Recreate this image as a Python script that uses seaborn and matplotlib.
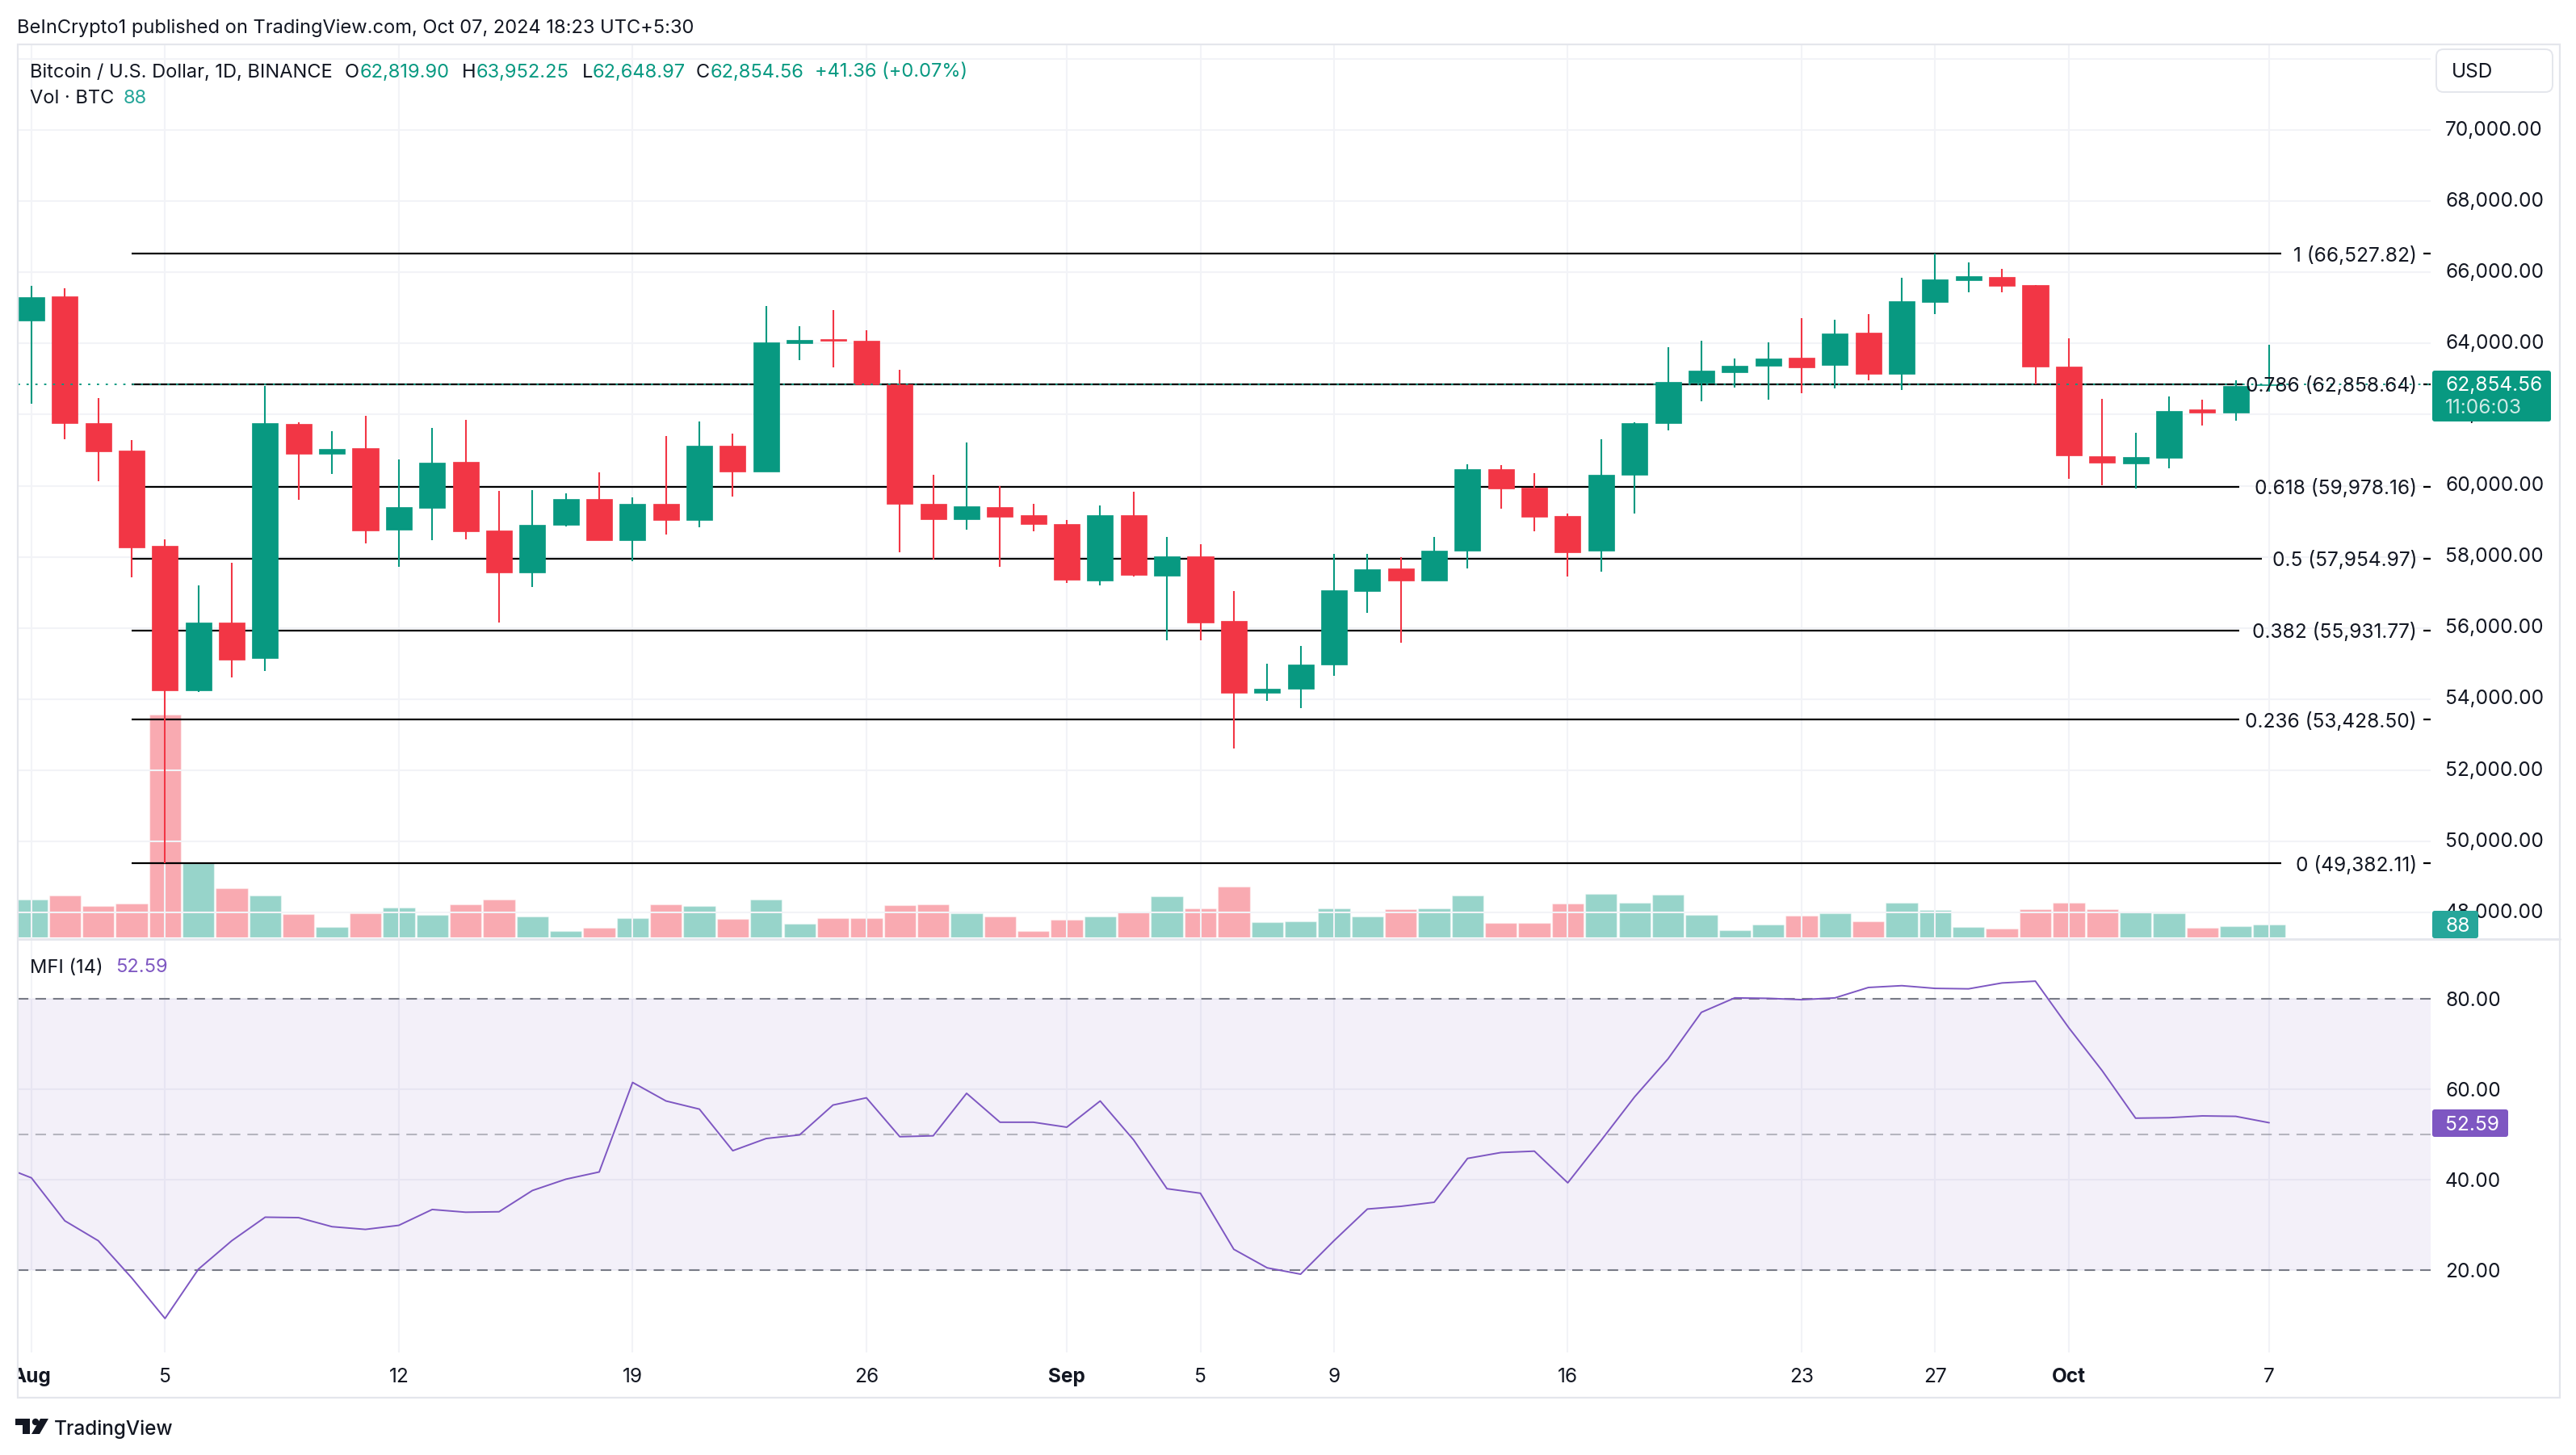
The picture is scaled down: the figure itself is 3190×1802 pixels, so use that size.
import matplotlib
matplotlib.use("Agg")
import matplotlib.pyplot as plt
import seaborn as sns
import numpy as np
from matplotlib.patches import Rectangle, FancyBboxPatch, Polygon, Circle
from matplotlib.lines import Line2D
from matplotlib.transforms import Affine2D, Bbox

sns.set_theme(style="white")
plt.rcParams['font.family'] = ['Inter', 'DejaVu Sans']

# ------------------------------ data ------------------------------
OPEN = [64645,65322,61765,60996,58312,54247,56149,55159,61739,60905,61062,58768,59381,60671,58742,57557,58899,
        59628,58469,59498,59042,61127,60397,64006,64124,64072,62860,59498,59055,59407,59172,58925,57335,59172,
        57465,58013,56201,54182,54299,54977,57035,57674,57335,58169,60462,59941,59146,58169,60304,61763,62897,
        63197,63379,63600,63392,64304,63144,65164,65776,65868,65646,63353,60825,60630,60786,62154,62063,62819.90]
HIGH = [65622,65557,62469,61283,58482,57205,57830,62808,61778,61531,61961,60736,61622,61857,59850,59876,59797,
        60371,59667,61400,61804,61466,65049,64489,64945,64371,63264,60306,61218,59980,59498,59029,59446,59837,
        58560,58351,57035,55003,55498,58091,58091,57986,58560,60606,60580,60358,59225,61309,61789,63900,64083,
        63574,64030,64708,64669,64825,65842,66532,66285,66102,65646,64148,62441,61490,62506,62415,62962,63952.25]
LOW = [62313,61309,60123,57426,49387,54208,54612,54794,59602,60332,58377,57726,58469,58495,56149,57153,58860,
       58469,57882,58625,58834,59693,60397,63537,63329,62860,58130,57921,58769,57726,58716,57270,57205,57452,
       55654,55654,52618,53947,53752,54651,56423,55589,57335,57674,59355,58716,57452,57583,59222,61568,62376,
       62767,62428,62597,62740,62962,62688,64825,65438,65438,62858,60200,60017,59913,60486,61698,61828,62648.97]
CLOSE = [65309,61765,60970,58260,54247,56149,55107,61765,60905,61036,58742,59407,60645,58716,57557,58899,59628,
         58469,59498,59042,61127,60397,64032,64098,64072,62860,59498,59055,59420,59133,58925,57361,59172,57491,
         58013,56149,54182,54299,54977,57061,57648,57335,58169,60462,59928,59133,58130,60306,61763,62923,63236,
         63379,63574,63327,64278,63144,65190,65803,65894,65620,63353,60851,60656,60812,62102,62063,62806,62854.56]
VOLUME = [258,286,214,229,1512,503,333,286,157,72,163,201,154,223,258,141,44,66,132,223,214,126,258,94,132,132,
          220,223,163,141,44,119,141,170,280,198,346,104,110,198,141,192,198,286,97,97,229,295,236,289,154,50,
          88,148,163,110,236,185,72,60,192,236,192,170,163,66,75,88]
MFI_DAYS = list(range(-1, 68))
MFI = [43.3,40.4,30.9,26.5,18.3,9.3,20.2,26.5,31.7,31.6,29.6,29.0,29.9,33.4,32.8,32.9,37.6,40.1,41.7,61.5,57.4,55.6,
       46.4,49.1,49.9,56.5,58.1,49.5,49.7,59.1,52.7,52.7,51.6,57.4,48.8,38.0,37.0,24.6,20.5,19.1,26.5,33.5,34.1,
       35.0,44.7,46.0,46.3,39.3,48.7,58.3,66.7,77.0,80.2,80.1,79.8,80.2,82.5,82.9,82.3,82.2,83.5,83.9,73.6,64.1,
       53.6,53.7,54.1,54.0,52.59]
DAYS = list(range(len(OPEN)))
TICK_DAYS = [0,4,11,18,25,31,35,39,46,53,57,61,67]
TICK_LABELS = ['Aug','5','12','19','26','Sep','5','9','16','23','27','Oct','7']
BOLD_LABELS = ['Aug','Sep','Oct']
PRICE_TICKS = list(range(48000, 72001, 2000))
MFI_TICKS = [20,40,60,80]
MFI_BANDS = [80,50,20]
FIB_RATIOS = ['1','0.786','0.618','0.5','0.382','0.236','0']
FIB_PRICES = [66527.82,62858.64,59978.16,57954.97,55931.77,53428.50,49382.11]
LAST_PRICE = 62854.56

# ------------------------------ style ------------------------------
W, H = 3190, 1802
GREEN, RED, PURPLE = '#089981', '#F23645', '#7E57C2'
INK, GRID, BORDER = '#131722', '#F2F3F7', '#E4E6EC'
FS = 17.6
FS_FIB = 17.6
FS_HEAD = 17.0
PX = Affine2D().scale(1, -1).translate(0, H)
fig = plt.figure(figsize=(W/100, H/100), dpi=100, facecolor='white')

def rect_axes(l, t, r, b, **kw):
    return fig.add_axes([l/W, 1-b/H, (r-l)/W, (b-t)/H], **kw)
def d(px):
    return (px-38.9)/41.36
def T(x, y, s, color=INK, size=FS, ha='left', z=8, **kw):
    return fig.text(x, y, s, color=color, fontsize=size, ha=ha, va='center_baseline', transform=PX, zorder=z, **kw)

L, R, PT, PB, MB = 22, 3010, 55, 1163, 1675
XL = (d(L), d(R))

# volume pane (beneath price)
axv = rect_axes(L, PT, R, 1161, zorder=0)
colors = ['up' if c >= o else 'down' for o, c in zip(OPEN, CLOSE)]
sns.barplot(x=DAYS, y=VOLUME, hue=colors, palette={'up': GREEN, 'down': RED}, native_scale=True, dodge=False,
            width=0.95, saturation=1, alpha=0.42, legend=False, ax=axv)
axv.set_xlim(*XL); axv.set_ylim(0, 6055); axv.axis('off')

# price pane
ax = rect_axes(L, PT, R, PB, zorder=1)
ax.patch.set_alpha(0)
ax.set_xlim(*XL); ax.set_ylim(47256, 72408)
ax.set_axisbelow(True)
ax.grid(True, color=GRID, lw=1.5)
ax.set_xticks(TICK_DAYS); ax.tick_params(axis='x', length=0, labelbottom=False)
ax.yaxis.tick_right()
ax.set_yticks(PRICE_TICKS)
ax.set_yticklabels([f'{p:,.2f}' if p < 72000 else '' for p in PRICE_TICKS])
ax.tick_params(axis='y', length=0, pad=13, labelsize=FS, labelcolor=INK)
for lab in ax.get_yticklabels():
    lab.set_va('center')
sns.despine(ax=ax, left=True, bottom=True, right=True, top=True)

FIB_END = [2825, 2777, 2773, 2801, 2773, 2773, 2825]
for ratio, p, e in zip(FIB_RATIOS, FIB_PRICES, FIB_END):
    ax.hlines(p, 3, d(e), color='black', lw=1.6, zorder=2)
    ax.hlines(p, d(3001), d(3010), color='black', lw=1.6, zorder=2)
    ax.text(d(2993), p, f'{ratio} ({p:,.2f})', ha='right', va='center_baseline', fontsize=FS_FIB, color=INK, zorder=6)

body_w = 0.775
for i, (o, h, l, c) in enumerate(zip(OPEN, HIGH, LOW, CLOSE)):
    col = GREEN if c >= o else RED
    ax.vlines(i, l, h, color=col, lw=1.5, zorder=3)
    ax.bar(i, abs(c-o), bottom=min(o, c), width=body_w, color=col, edgecolor=col, lw=0.5, zorder=4)
ax.hlines(LAST_PRICE, *XL, color=GREEN, lw=1.4, linestyles=(0, (1.4, 4.2)), zorder=5)

# MFI pane
axm = rect_axes(L, PB, R, MB, zorder=1)
axm.set_xlim(*XL); axm.set_ylim(1.786, 93.21)
axm.set_axisbelow(True)
axm.grid(True, color=GRID, lw=1.5)
axm.axhspan(MFI_BANDS[2], MFI_BANDS[0], color=PURPLE, alpha=0.085, lw=0, zorder=1)
for b, a in zip(MFI_BANDS, [1, .5, 1]):
    axm.axhline(b, color='#787B86', lw=1.5, alpha=a, linestyle=(0, (6.3, 4.2)), zorder=2)
sns.lineplot(x=MFI_DAYS, y=MFI, color=PURPLE, lw=1.4, errorbar=None, ax=axm, zorder=3)
axm.set_xlabel(''); axm.set_ylabel('')
axm.yaxis.tick_right()
axm.set_yticks(MFI_TICKS); axm.set_yticklabels([f'{v:.2f}' for v in MFI_TICKS])
axm.tick_params(axis='y', length=0, pad=13, labelsize=FS, labelcolor=INK)
axm.set_xticks(TICK_DAYS); axm.set_xticklabels(TICK_LABELS)
axm.tick_params(axis='x', length=0, pad=14, labelsize=FS, labelcolor=INK)
clip = Bbox([[L, 0], [W, H]])
for lab in axm.get_xticklabels():
    if lab.get_text() in BOLD_LABELS:
        lab.set_fontweight('bold')
    lab.set_clip_box(clip); lab.set_clip_on(True)
sns.despine(ax=axm, left=True, bottom=True, right=True, top=True)

# frame
fig.add_artist(Rectangle((L, PT), 3170-L, 1731-PT, fill=False, ec=BORDER, lw=1.6, transform=PX, zorder=4))
fig.add_artist(Line2D([L, 3170], [PB, PB], color=BORDER, lw=2, transform=PX, zorder=4))

# header texts
T(21, 32, 'BeInCrypto1 published on TradingView.com, Oct 07, 2024 18:23 UTC+5:30', size=FS_HEAD)
T(37, 87, 'Bitcoin / U.S. Dollar, 1D, BINANCE', size=FS_HEAD)
for x, s, c in [(427,'O',INK),(446,'62,819.90',GREEN),(572,'H',INK),(590,'63,952.25',GREEN),(721,'L',INK),
                (734,'62,648.97',GREEN),(862,'C',INK),(880,'62,854.56',GREEN),(1009,'+41.36 (+0.07%)',GREEN)]:
    T(x, 87, s, color=c, size=FS_HEAD)
T(37, 120, 'Vol · BTC', size=FS_HEAD); T(153, 120, '88', color='#26A69A', size=FS_HEAD)
T(37, 1196, 'MFI (14)', size=FS_HEAD); T(143, 1196, '52.59', color=PURPLE, size=FS_HEAD)

# price-scale widgets
fig.add_artist(FancyBboxPatch((3020, 64), 138, 47, boxstyle='round,pad=3,rounding_size=9', fc='white', ec=BORDER, lw=1.4,
                              transform=PX, zorder=5))
T(3036, 87, 'USD', size=FS)
def tag(x0, y0, x1, y1, col):
    fig.add_artist(FancyBboxPatch((x0, y0), x1-x0, y1-y0, boxstyle='round,pad=0,rounding_size=3', fc=col, ec=col, lw=0,
                                  transform=PX, zorder=6))
tag(3012, 459, 3159, 522, GREEN)
T(3028, 475, '62,854.56', color='white')
T(3028, 503, '11:06:03', color='#CFEAE6')
tag(3012, 1128, 3069, 1162, '#26A69A')
T(3028, 1145, '88', color='white')
tag(3012, 1374, 3106, 1408, PURPLE)
T(3028, 1391, '52.59', color='white')

# footer mark
for art in [Polygon([(19,1757),(37,1757),(37,1776),(28,1776),(28,1765),(19,1765)], fc='#131722', ec='none', transform=PX),
            Circle((44,1761), 4.2, fc='#131722', ec='none', transform=PX),
            Polygon([(50,1757),(60,1757),(49,1776),(39,1776)], fc='#131722', ec='none', transform=PX)]:
    art.set_zorder(6); fig.add_artist(art)
T(67, 1768, 'TradingView', size=17.5, fontweight='medium')

fig.savefig('out.png', dpi=100, facecolor='white')
